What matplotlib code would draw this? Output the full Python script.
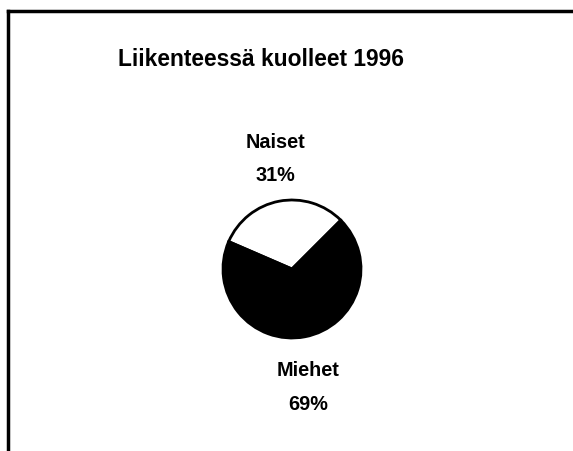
import matplotlib.pyplot as plt

# data
labels = ['Naiset', 'Miehet']
shares = [31, 69]
colors = ['white', 'black']
title = 'Liikenteessä kuolleet 1996'

W, H = 573, 452
fig = plt.figure(figsize=(W / 100, H / 100), dpi=100)
ax = fig.add_axes([0, 0, 1, 1])

# pie in pixel coordinates (y up)
ax.pie(shares, colors=colors, startangle=45, counterclock=True,
       center=(292, H - 270), radius=69,
       wedgeprops=dict(edgecolor='black', linewidth=2))
ax.set_xlim(0, W)
ax.set_ylim(0, H)
ax.set_aspect('equal')
ax.axis('off')

font = 'Liberation Sans'
ax.text(260.5, H - 66, title, ha='center', va='baseline', fontsize=16.4,
        family=font, fontweight='bold')

# (x, baseline of name, baseline of percent)
label_pos = [(275, H - 148, H - 181), (308, H - 376, H - 410)]
for lab, val, (x, y1, y2) in zip(labels, shares, label_pos):
    ax.text(x, y1, lab, ha='center', va='baseline', fontsize=14.3,
            family=font, fontweight='bold')
    ax.text(x, y2, f'{val}%', ha='center', va='baseline', fontsize=14.3,
            family=font, fontweight='bold')

# scanned frame: only top and left edges visible
ax.plot([8, W], [H - 11.5, H - 11.5], color='black', linewidth=2.5)
ax.plot([8, 8], [H - 11.5, 0], color='black', linewidth=2.5)

fig.savefig('out.png', dpi=100)
